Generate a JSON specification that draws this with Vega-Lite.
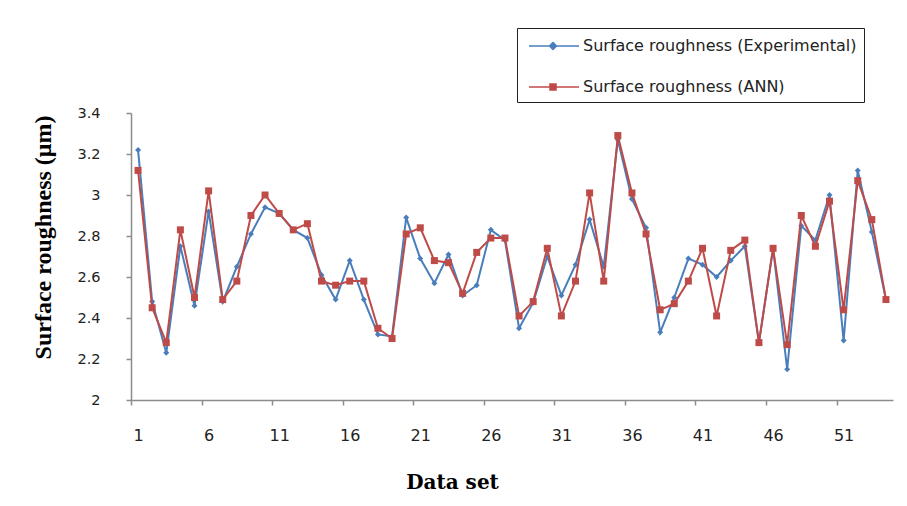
{
  "$schema": "https://vega.github.io/schema/vega-lite/v6.json",
  "width": 762,
  "height": 287,
  "autosize": {"type": "none"},
  "padding": {"left": 131, "top": 113, "right": 14, "bottom": 106},
  "background": "white",
  "config": {"view": {"stroke": null}},
  "data": {
    "values": [
      {"i": 1, "Surface roughness (Experimental)": 3.22, "Surface roughness (ANN)": 3.12},
      {"i": 2, "Surface roughness (Experimental)": 2.48, "Surface roughness (ANN)": 2.45},
      {"i": 3, "Surface roughness (Experimental)": 2.23, "Surface roughness (ANN)": 2.28},
      {"i": 4, "Surface roughness (Experimental)": 2.75, "Surface roughness (ANN)": 2.83},
      {"i": 5, "Surface roughness (Experimental)": 2.46, "Surface roughness (ANN)": 2.50},
      {"i": 6, "Surface roughness (Experimental)": 2.92, "Surface roughness (ANN)": 3.02},
      {"i": 7, "Surface roughness (Experimental)": 2.48, "Surface roughness (ANN)": 2.49},
      {"i": 8, "Surface roughness (Experimental)": 2.65, "Surface roughness (ANN)": 2.58},
      {"i": 9, "Surface roughness (Experimental)": 2.81, "Surface roughness (ANN)": 2.90},
      {"i": 10, "Surface roughness (Experimental)": 2.94, "Surface roughness (ANN)": 3.00},
      {"i": 11, "Surface roughness (Experimental)": 2.91, "Surface roughness (ANN)": 2.91},
      {"i": 12, "Surface roughness (Experimental)": 2.83, "Surface roughness (ANN)": 2.83},
      {"i": 13, "Surface roughness (Experimental)": 2.79, "Surface roughness (ANN)": 2.86},
      {"i": 14, "Surface roughness (Experimental)": 2.61, "Surface roughness (ANN)": 2.58},
      {"i": 15, "Surface roughness (Experimental)": 2.49, "Surface roughness (ANN)": 2.56},
      {"i": 16, "Surface roughness (Experimental)": 2.68, "Surface roughness (ANN)": 2.58},
      {"i": 17, "Surface roughness (Experimental)": 2.49, "Surface roughness (ANN)": 2.58},
      {"i": 18, "Surface roughness (Experimental)": 2.32, "Surface roughness (ANN)": 2.35},
      {"i": 19, "Surface roughness (Experimental)": 2.31, "Surface roughness (ANN)": 2.30},
      {"i": 20, "Surface roughness (Experimental)": 2.89, "Surface roughness (ANN)": 2.81},
      {"i": 21, "Surface roughness (Experimental)": 2.69, "Surface roughness (ANN)": 2.84},
      {"i": 22, "Surface roughness (Experimental)": 2.57, "Surface roughness (ANN)": 2.68},
      {"i": 23, "Surface roughness (Experimental)": 2.71, "Surface roughness (ANN)": 2.67},
      {"i": 24, "Surface roughness (Experimental)": 2.51, "Surface roughness (ANN)": 2.52},
      {"i": 25, "Surface roughness (Experimental)": 2.56, "Surface roughness (ANN)": 2.72},
      {"i": 26, "Surface roughness (Experimental)": 2.83, "Surface roughness (ANN)": 2.79},
      {"i": 27, "Surface roughness (Experimental)": 2.78, "Surface roughness (ANN)": 2.79},
      {"i": 28, "Surface roughness (Experimental)": 2.35, "Surface roughness (ANN)": 2.41},
      {"i": 29, "Surface roughness (Experimental)": 2.475, "Surface roughness (ANN)": 2.48},
      {"i": 30, "Surface roughness (Experimental)": 2.70, "Surface roughness (ANN)": 2.74},
      {"i": 31, "Surface roughness (Experimental)": 2.51, "Surface roughness (ANN)": 2.41},
      {"i": 32, "Surface roughness (Experimental)": 2.66, "Surface roughness (ANN)": 2.58},
      {"i": 33, "Surface roughness (Experimental)": 2.88, "Surface roughness (ANN)": 3.01},
      {"i": 34, "Surface roughness (Experimental)": 2.65, "Surface roughness (ANN)": 2.58},
      {"i": 35, "Surface roughness (Experimental)": 3.27, "Surface roughness (ANN)": 3.29},
      {"i": 36, "Surface roughness (Experimental)": 2.98, "Surface roughness (ANN)": 3.01},
      {"i": 37, "Surface roughness (Experimental)": 2.84, "Surface roughness (ANN)": 2.81},
      {"i": 38, "Surface roughness (Experimental)": 2.33, "Surface roughness (ANN)": 2.44},
      {"i": 39, "Surface roughness (Experimental)": 2.50, "Surface roughness (ANN)": 2.47},
      {"i": 40, "Surface roughness (Experimental)": 2.69, "Surface roughness (ANN)": 2.58},
      {"i": 41, "Surface roughness (Experimental)": 2.66, "Surface roughness (ANN)": 2.74},
      {"i": 42, "Surface roughness (Experimental)": 2.60, "Surface roughness (ANN)": 2.41},
      {"i": 43, "Surface roughness (Experimental)": 2.68, "Surface roughness (ANN)": 2.73},
      {"i": 44, "Surface roughness (Experimental)": 2.75, "Surface roughness (ANN)": 2.78},
      {"i": 45, "Surface roughness (Experimental)": 2.28, "Surface roughness (ANN)": 2.28},
      {"i": 46, "Surface roughness (Experimental)": 2.74, "Surface roughness (ANN)": 2.74},
      {"i": 47, "Surface roughness (Experimental)": 2.15, "Surface roughness (ANN)": 2.27},
      {"i": 48, "Surface roughness (Experimental)": 2.85, "Surface roughness (ANN)": 2.90},
      {"i": 49, "Surface roughness (Experimental)": 2.78, "Surface roughness (ANN)": 2.75},
      {"i": 50, "Surface roughness (Experimental)": 3.00, "Surface roughness (ANN)": 2.97},
      {"i": 51, "Surface roughness (Experimental)": 2.29, "Surface roughness (ANN)": 2.44},
      {"i": 52, "Surface roughness (Experimental)": 3.12, "Surface roughness (ANN)": 3.07},
      {"i": 53, "Surface roughness (Experimental)": 2.82, "Surface roughness (ANN)": 2.88},
      {"i": 54, "Surface roughness (Experimental)": 2.49, "Surface roughness (ANN)": 2.49}
    ]
  },
  "transform": [
    {"fold": ["Surface roughness (Experimental)", "Surface roughness (ANN)"], "as": ["series", "v"]}
  ],
  "encoding": {
    "x": {
      "field": "i", "type": "quantitative",
      "scale": {"domain": [0.5, 54.5], "nice": false, "zero": false},
      "axis": {
        "values": [1, 6, 11, 16, 21, 26, 31, 36, 41, 46, 51],
        "tickOffset": -7.056, "labelOffset": 7.056,
        "grid": false, "domainColor": "#8c8c8c", "domainWidth": 1.5,
        "tickColor": "#8c8c8c", "tickWidth": 1.5, "tickSize": 5,
        "labelFont": "DejaVu Sans", "labelFontSize": 16, "labelColor": "#222222",
        "labelPadding": 22, "labelBaseline": "top",
        "title": "Data set", "titleFont": "DejaVu Serif", "titleFontWeight": "bold",
        "titleFontSize": 20, "titleColor": "#000000",
        "titleX": 321, "titleY": 88, "titleAlign": "center", "titleBaseline": "alphabetic"
      }
    },
    "y": {
      "field": "v", "type": "quantitative",
      "scale": {"domain": [2, 3.4], "nice": false, "zero": false},
      "axis": {
        "values": [2, 2.2, 2.4, 2.6, 2.8, 3, 3.2, 3.4], "format": "~g",
        "grid": false, "domainColor": "#8c8c8c", "domainWidth": 1.5,
        "tickColor": "#8c8c8c", "tickWidth": 1.5, "tickSize": 5,
        "labelFont": "DejaVu Sans", "labelFontSize": 14.5, "labelColor": "#222222",
        "labelPadding": 26,
        "title": "Surface roughness (μm)", "titleFont": "Liberation Serif", "titleFontWeight": "bold",
        "titleFontSize": 24, "titleColor": "#000000", "titleAngle": 270,
        "titleX": -88, "titleY": 124, "titleAlign": "center", "titleBaseline": "middle"
      }
    },
    "color": {
      "field": "series", "type": "nominal",
      "scale": {"domain": ["Surface roughness (Experimental)", "Surface roughness (ANN)"], "range": ["#4a7ebb", "#be4b48"]}
    }
  },
  "layer": [
    {
      "transform": [{"filter": "datum.series === 'Surface roughness (Experimental)'"}],
      "mark": {"type": "line", "strokeWidth": 2}
    },
    {
      "transform": [{"filter": "datum.series === 'Surface roughness (Experimental)'"}],
      "mark": {"type": "point", "shape": "diamond", "filled": true, "size": 36, "opacity": 1}
    },
    {
      "transform": [{"filter": "datum.series === 'Surface roughness (ANN)'"}],
      "mark": {"type": "line", "strokeWidth": 2}
    },
    {
      "transform": [{"filter": "datum.series === 'Surface roughness (ANN)'"}],
      "mark": {"type": "point", "shape": "square", "filled": true, "size": 49, "opacity": 1}
    },
    {
      "transform": [{"filter": "false"}],
      "mark": {"type": "point", "filled": true, "opacity": 1},
      "encoding": {
        "shape": {
          "field": "series", "type": "nominal",
          "scale": {
            "domain": ["Surface roughness (Experimental)", "Surface roughness (ANN)"],
            "range": ["M-0.6,0H4.4M1.8,-0.35L2.15,0L1.8,0.35L1.45,0Z", "M-0.6,0H4.4M1.5,-0.3H2.1V0.3H1.5Z"]
          },
          "legend": {
            "title": null, "orient": "none", "direction": "vertical",
            "legendX": 386, "legendY": -85,
            "padding": 7, "rowPadding": 22, "symbolSize": 400,
            "labelOffset": 37, "labelFont": "DejaVu Sans", "labelFontSize": 16,
            "labelColor": "#222222", "labelLimit": 400,
            "strokeColor": "#222222", "fillColor": "white",
            "symbolStrokeWidth": 1.5, "symbolOpacity": 1,
            "encode": {
              "symbols": {"update": {"stroke": {"scale": "color", "field": "value"}, "fill": {"scale": "color", "field": "value"}, "strokeWidth": {"value": 1.5}}},
              "legend": {"update": {"strokeWidth": {"value": 2}}}
            }
          }
        }
      }
    }
  ]
}
